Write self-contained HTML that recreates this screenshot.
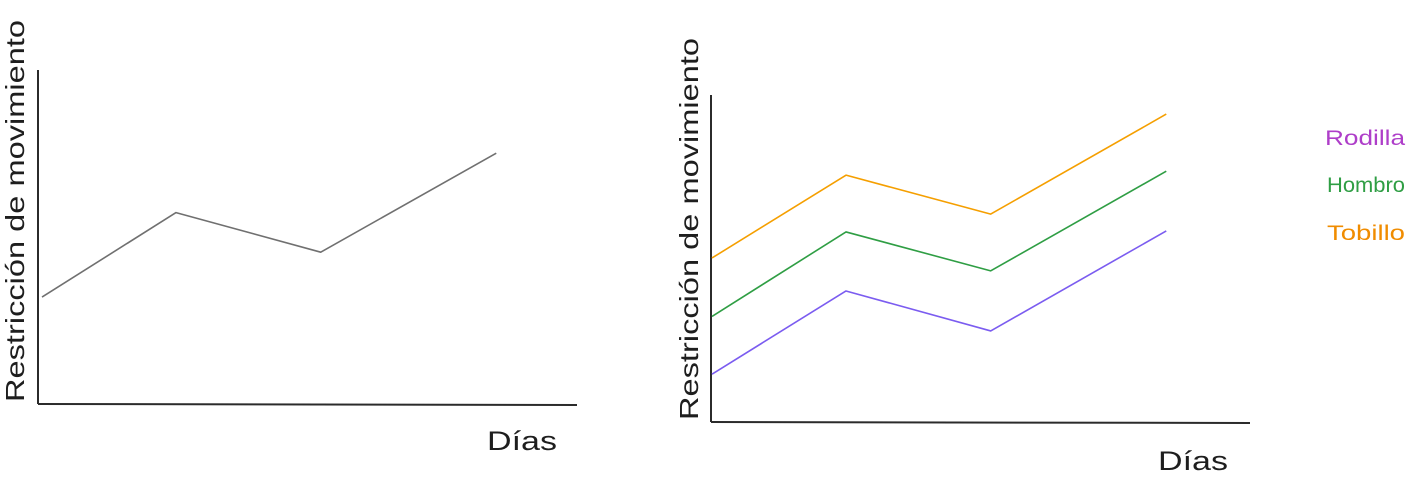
<!DOCTYPE html>
<html><head><meta charset="utf-8"><style>
html,body{margin:0;padding:0;background:#fff;width:1415px;height:481px;overflow:hidden}
svg{display:block}
text{font-family:"Liberation Sans",sans-serif;fill:#1e1e1e}
</style></head><body>
<svg id="c" width="1415" height="481">
<g>
<line x1="38" y1="70" x2="38" y2="404" stroke="#2b2b2b" stroke-width="2"/>
<line x1="38" y1="404" x2="577" y2="405" stroke="#2b2b2b" stroke-width="2"/>
<text transform="translate(24,402) rotate(-90)" font-size="26" textLength="382" lengthAdjust="spacingAndGlyphs">Restricción de movimiento</text>
<text x="487" y="450" font-size="27" textLength="70" lengthAdjust="spacingAndGlyphs">Días</text>
</g>
<g>
<line x1="711" y1="95" x2="711" y2="422" stroke="#2b2b2b" stroke-width="2"/>
<line x1="711" y1="422" x2="1250" y2="423" stroke="#2b2b2b" stroke-width="2"/>
<text transform="translate(698,420) rotate(-90)" font-size="26" textLength="382" lengthAdjust="spacingAndGlyphs">Restricción de movimiento</text>
<text x="1158" y="470" font-size="27" textLength="70" lengthAdjust="spacingAndGlyphs">Días</text>
<text x="1325" y="145" font-size="21" fill="#ae3ec9" style="fill:#ae3ec9" textLength="80" lengthAdjust="spacingAndGlyphs">Rodilla</text>
<text x="1327" y="192" font-size="21" style="fill:#2f9e44" textLength="78" lengthAdjust="spacingAndGlyphs">Hombro</text>
<text x="1327" y="240" font-size="21" style="fill:#f08c00" textLength="78" lengthAdjust="spacingAndGlyphs">Tobillo</text>
</g>
</svg>
<script>
const days = [0, 1, 2.08, 3.39];
const leftValues = [32.4, 58, 46, 76];
const tobilloValues = [49.7, 74.8, 63, 93.3];
const hombroValues = [32, 57.6, 45.8, 76];
const rodillaValues = [14.5, 39.7, 27.6, 57.9];
const svg = document.getElementById('c');
const NS = 'http://www.w3.org/2000/svg';
function drawLine(x0, y0, vals, color, name) {
  const pts = days.map((d, i) => (x0 + d * 134) + ',' + (y0 - vals[i] * 3.3)).join(' ');
  const p = document.createElementNS(NS, 'polyline');
  p.setAttribute('points', pts);
  p.setAttribute('fill', 'none');
  p.setAttribute('stroke', color);
  p.setAttribute('stroke-width', '1.6');
  p.setAttribute('stroke-linejoin', 'round');
  
  
  svg.appendChild(p);
}
drawLine(42, 404, leftValues, '#707070', 'left-series-line');
drawLine(712, 422, tobilloValues, '#f59f00', 'tobillo-line');
drawLine(712, 422, hombroValues, '#2f9e44', 'hombro-line');
drawLine(712, 422, rodillaValues, '#7b5cf0', 'rodilla-line');
</script>
</body></html>
